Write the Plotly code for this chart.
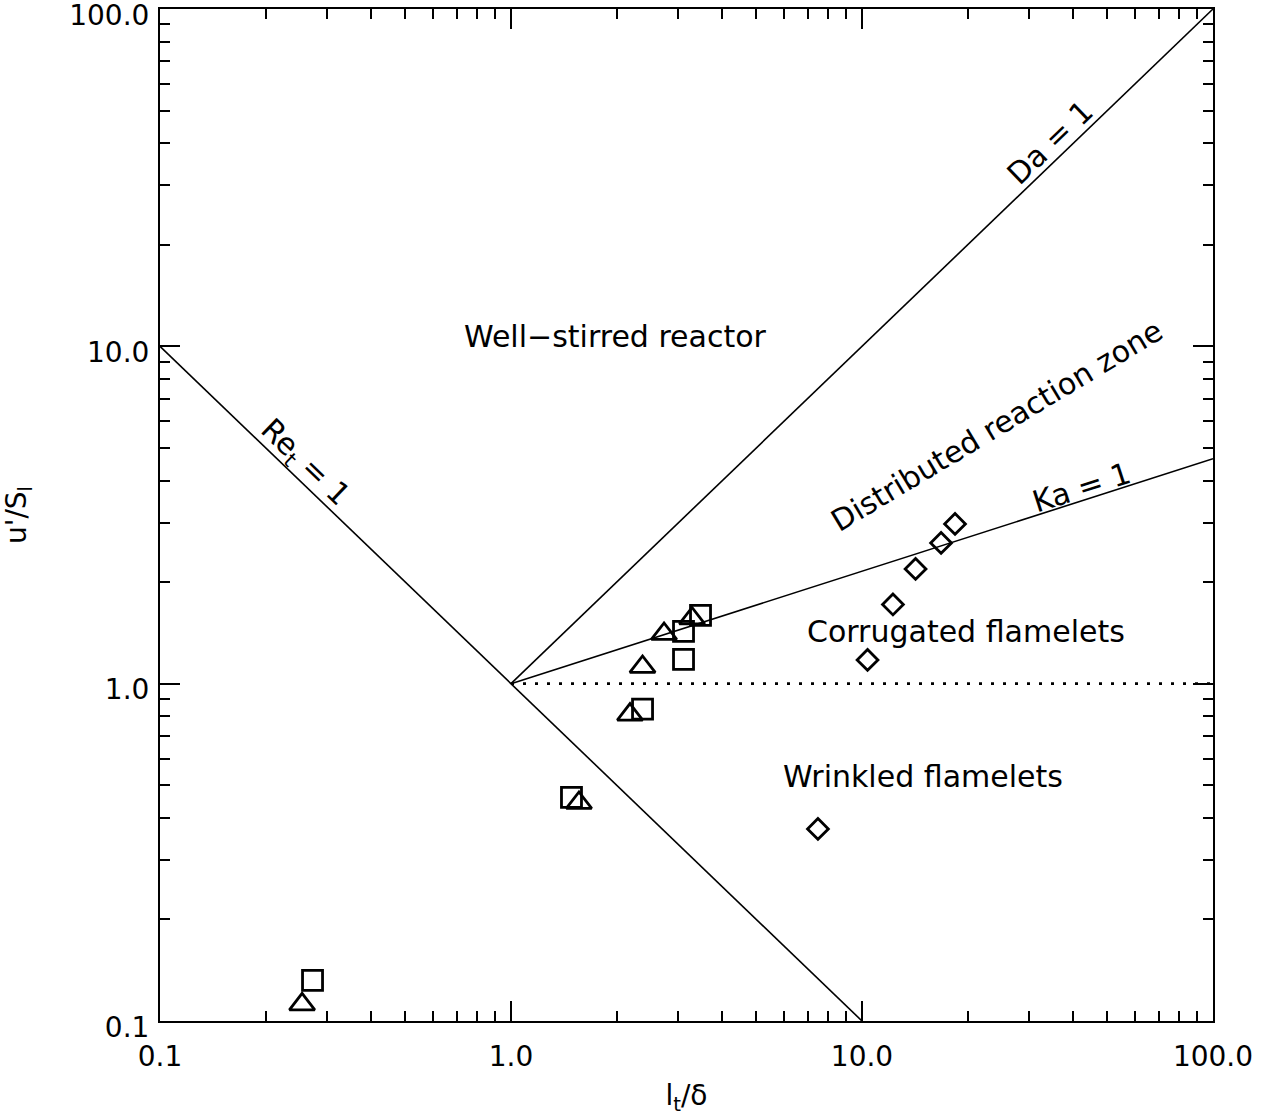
import plotly.graph_objects as go

# Regime diagram for premixed turbulent combustion (Borghi-type)
# measured points: turbulence length scale / flame thickness vs u'/S_l
square_x = [0.272, 1.487, 2.370, 3.101, 3.101, 3.467]
square_y = [0.132, 0.460, 0.841, 1.180, 1.428, 1.593]

triangle_x = [0.254, 1.562, 2.183, 2.370, 2.729, 3.279]
triangle_y = [0.112, 0.443, 0.810, 1.121, 1.404, 1.561]

diamond_x = [7.49, 10.37, 12.25, 14.21, 16.80, 18.41]
diamond_y = [0.371, 1.176, 1.717, 2.188, 2.613, 2.975]

tick_vals = [0.1, 1.0, 10.0, 100.0]
tick_text = ["0.1", "1.0", "10.0", "100.0"]
minor_vals = [m * 10.0 ** k for k in range(-1, 2) for m in range(2, 10)]

# regime boundaries
re_x = [0.1, 10.0]          # Re_t = 1  ->  u'/S = delta/l
da_x = [1.0, 100.0]         # Da = 1    ->  u'/S = l/delta
ka_x = [1.0, 100.0]         # Ka = 1    ->  u'/S = (l/delta)^(1/3)
ref_x = [1.0, 100.0]        # u'/S = 1

FONT = "DejaVu Sans"
BLACK = "#000000"

fig = go.Figure()

line_style = dict(color=BLACK, width=1.6)
fig.add_trace(go.Scatter(x=re_x, y=[1.0 / v for v in re_x], mode="lines",
                         line=line_style, hoverinfo="skip"))
fig.add_trace(go.Scatter(x=da_x, y=list(da_x), mode="lines",
                         line=line_style, hoverinfo="skip"))
fig.add_trace(go.Scatter(x=ka_x, y=[v ** (1.0 / 3.0) for v in ka_x], mode="lines",
                         line=line_style, hoverinfo="skip"))
fig.add_trace(go.Scatter(x=ref_x, y=[1.0, 1.0], mode="lines",
                         line=dict(color=BLACK, width=2.6, dash="3px,9px"),
                         hoverinfo="skip"))

fig.add_trace(go.Scatter(x=square_x, y=square_y, mode="markers",
                         marker=dict(symbol="square-open", size=20, color=BLACK,
                                     line=dict(width=2.8, color=BLACK))))
fig.add_trace(go.Scatter(x=triangle_x, y=triangle_y, mode="markers",
                         marker=dict(symbol="triangle-up-open", size=22, color=BLACK,
                                     line=dict(width=2.8, color=BLACK))))
fig.add_trace(go.Scatter(x=diamond_x, y=diamond_y, mode="markers",
                         marker=dict(symbol="diamond-open", size=16, color=BLACK,
                                     line=dict(width=2.8, color=BLACK))))

label_font = dict(family=FONT, size=30, color=BLACK)
# (text, log10 x, log10 y, angle)
labels = [
    ("Well\u2212stirred reactor", 0.299, 1.028, 0),
    ("Distributed reaction zone", 1.385, 0.764, -31),
    ("Ka = 1", 1.624, 0.583, -17.8),
    ("Da = 1", 1.536, 1.603, -43.9),
    ("Re<sub>t</sub> = 1", -0.587, 0.654, 43.9),
    ("Corrugated flamelets", 1.296, 0.156, 0),
    ("Wrinkled flamelets", 1.174, -0.274, 0),
]
for text, lx, ly, ang in labels:
    fig.add_annotation(x=lx, y=ly, xref="x", yref="y", text=text, showarrow=False,
                       textangle=ang, font=label_font, xanchor="center", yanchor="middle")

axis_common = dict(
    type="log",
    automargin=False,
    tickmode="array",
    tickvals=tick_vals,
    ticktext=tick_text,
    ticks="inside",
    ticklen=20,
    tickwidth=2,
    tickcolor=BLACK,
    showline=True,
    linewidth=2,
    linecolor=BLACK,
    mirror="allticks",
    showgrid=False,
    zeroline=False,
    ticklabeloverflow="allow",
    tickfont=dict(family=FONT, size=28, color=BLACK),
    minor=dict(tickmode="array", tickvals=minor_vals, ticks="inside",
               ticklen=10, tickwidth=2, tickcolor=BLACK, showgrid=False),
)

fig.update_layout(
    width=1269,
    height=1116,
    margin=dict(l=160, r=56, t=9, b=95),
    paper_bgcolor="white",
    plot_bgcolor="white",
    showlegend=False,
    xaxis=dict(axis_common, range=[-1, 2], ticklabelstandoff=9,
               title=dict(text="l<sub>t</sub>/\u03b4", standoff=18,
                          font=dict(family=FONT, size=28, color=BLACK))),
    yaxis=dict(axis_common, range=[-1, 2], ticklabelshift=6, ticklabelstandoff=3,
               title=dict(text="u'/S<sub>l</sub>", standoff=43,
                          font=dict(family=FONT, size=28, color=BLACK))),
)

fig.write_html("out.html")
